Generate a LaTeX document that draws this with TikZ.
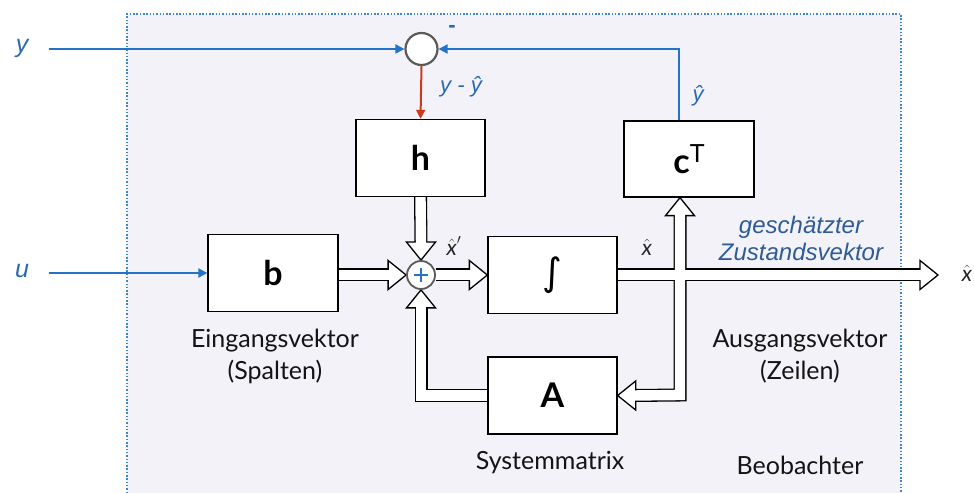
\documentclass[tikz,border=0pt]{standalone}
\usepackage{fontspec}
\setmainfont{Lato}
\newfontfamily\lsans{Liberation Sans}
\newfontfamily\djv{DejaVu Sans}
\usetikzlibrary{arrows.meta,calc}
\pgfdeclarelayer{bg}
\pgfdeclarelayer{mid}
\pgfsetlayers{bg,mid,main}
\definecolor{bgfill}{HTML}{F3F2F9}
\definecolor{dotblue}{HTML}{3C86D0}
\definecolor{blueline}{HTML}{2273C9}
\definecolor{bluetext}{HTML}{2A6AB5}
\definecolor{darkbluetext}{HTML}{2F5B96}
\definecolor{redline}{HTML}{CC3A1E}
\definecolor{circgray}{HTML}{5A5A5A}
\definecolor{lbltext}{HTML}{141414}
\tikzset{
  blk/.style={draw=black, line width=1.3bp, fill=white, minimum width=129bp, minimum height=77bp, inner sep=0pt, text=black},
  boxfont/.style={font=\fontsize{34bp}{36bp}\selectfont\bfseries},
  blueconn/.style={draw=blueline, line width=2bp, -{Triangle[length=9bp,width=9bp]}},
  redconn/.style={draw=redline, line width=2bp, -{Triangle[length=9bp,width=9bp]}},
  shaftout/.style={line width=13bp, draw=black, line join=miter},
  shaftin/.style={line width=10.4bp, draw=white, line join=miter},
  hhead/.style={fill=white, draw=black, line width=1.3bp, line join=miter},
  lbl/.style={font=\fontsize{25bp}{32bp}\selectfont, text=lbltext, align=center, inner sep=0pt},
  sig/.style={font=\lsans\itshape\fontsize{25bp}{26bp}\selectfont, text=bluetext, inner sep=0pt},
  hat/.style={font=\fontsize{22bp}{24bp}\selectfont, text=black!85, inner sep=0pt},
}
\newcommand\mhdR[1]{\path[hhead] (#1) -- ++(-18,-14.5) -- ++(0,29) -- cycle;}
\newcommand\mhdL[1]{\path[hhead] (#1) -- ++(18,-14.5) -- ++(0,29) -- cycle;}
\newcommand\mhdU[1]{\path[hhead] (#1) -- ++(-14.5,18) -- ++(29,0) -- cycle;}
\newcommand\mhdD[1]{\path[hhead] (#1) -- ++(-14.5,-18) -- ++(29,0) -- cycle;}
\newcommand\myshafts[2]{%
  \draw[#1] (b.east |- sum.west) -- ($(sum.west)+(-#2,0)$);
  \draw[#1] (h.south) -- ($(sum.north)+(0,-#2)$);
  \draw[#1] (sum.east) -- ($(int.west)+(-#2,0)$);
  \draw[#1] (int.east) -- ($(xo)+(-#2,0)$);
  \draw[#1] ($(A.east)+(#2,0)$) -- (bc) -- ($(bc |- cT.south)+(0,#2)$);
  \draw[#1] (A.west) -- (A.west -| sum.south) -- ($(sum.south)+(0,#2)$);
}
\begin{document}
\begin{tikzpicture}[x=1bp,y=-1bp]
\useasboundingbox (0,0) rectangle (974,493);
\begin{pgfonlayer}{bg}
  \fill[white] (0,0) rectangle (974,493);
  \fill[bgfill] (127,14) rectangle (901,493);
  \draw[dotblue, line width=1.2bp, dash pattern=on 1.5bp off 1.8bp] (127,493) -- (127,14) -- (901,14) -- (901,493);
\end{pgfonlayer}

% blocks
\node[blk, boxfont] (h) at (420.5,158) {h};
\node[blk, boxfont, minimum width=130bp, minimum height=76bp] (cT) at (689,159) {c\raisebox{11bp}{\mdseries\fontsize{25bp}{25bp}\selectfont T}};
\node[blk, boxfont, minimum width=130bp] (b) at (273,273) {b};
\node[blk, font=\djv\fontsize{38bp}{40bp}\selectfont] (int) at (552.5,275) {∫};
\node[blk, boxfont] (A) at (552.5,395.5) {A};

% comparison circle and summing junction
\node[circle, draw=circgray, line width=2.2bp, fill=white, minimum size=32bp, inner sep=0pt] (sy) at (421.5,49) {};
\node[circle, draw=circgray, line width=1.8bp, fill=white, minimum size=28bp, inner sep=0pt] (sum) at (421,275) {};
\draw[blueline, line width=2bp] ($(sum.center)+(-7,0)$) -- ($(sum.center)+(7,0)$);
\draw[blueline, line width=2bp] ($(sum.center)+(0,-7)$) -- ($(sum.center)+(0,7)$);

\coordinate (xo) at (938,275);
\coordinate (bc) at (680,395);

% hollow signal arrows
\begin{pgfonlayer}{mid}
  \myshafts{shaftout}{17}
  \mhdR{sum.west}
  \mhdD{sum.north}
  \mhdU{sum.south}
  \mhdR{int.west}
  \mhdR{xo}
  \mhdL{A.east}
  \mhdU{bc |- cT.south}
  \myshafts{shaftin}{14.5}
\end{pgfonlayer}

% blue and red connectors
\coordinate (yin) at (49,49);
\coordinate (uin) at (49,273);
\draw[blueconn] (yin) -- (sy.west);
\draw[blueconn] (uin) -- (b.west);
\draw[blueconn] ($(cT.north)+(-10,0)$) |- (sy.east);
\draw[redconn] (sy.south) -- (h.north);

% signal labels
\node[sig] (ly) at (22,48) {y};
\node[sig] (lu) at (22,271) {u};
\node[sig, font=\lsans\bfseries\fontsize{22bp}{24bp}\selectfont] (lminus) at (452,29) {-};
\node[sig, font=\lsans\itshape\fontsize{22bp}{24bp}\selectfont] (lerr) at (461,87) {y - ŷ};
\node[sig, font=\lsans\itshape\fontsize{22bp}{24bp}\selectfont] (lyh) at (698,96) {ŷ};
\node[hat] (lxd) at (454,246) {$\hat{\textit{x}}'$};
\node[hat] (lx1) at (647,247) {$\hat{\textit{x}}$};
\node[hat] (lx2) at (967,273) {$\hat{\textit{x}}$};
\node[font=\lsans\itshape\fontsize{24bp}{27bp}\selectfont, text=darkbluetext, align=center, inner sep=0pt] (lz) at (801,238.5) {geschätzter\\Zustandsvektor};

% descriptive labels
\node[lbl] (le) at (275,356) {Eingangsvektor\\(Spalten)};
\node[lbl] (la) at (800,356) {Ausgangsvektor\\(Zeilen)};
\node[lbl] (ls) at (550,463) {Systemmatrix};
\node[lbl] (lb) at (800,465) {Beobachter};
\end{tikzpicture}
\end{document}
